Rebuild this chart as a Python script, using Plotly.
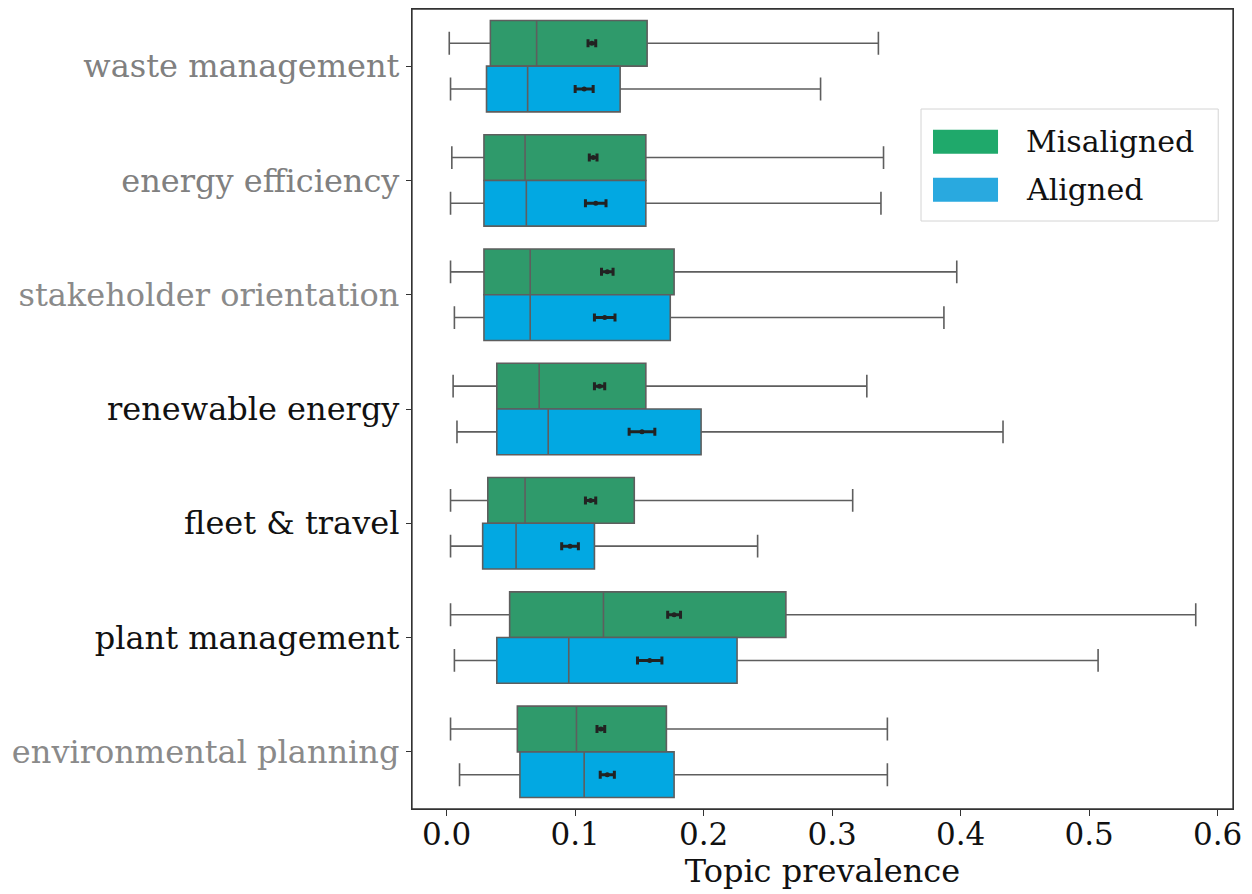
import plotly.graph_objects as go

categories = ["waste management", "energy efficiency", "stakeholder orientation",
              "renewable energy", "fleet & travel", "plant management",
              "environmental planning"]
label_colors = ["#808080", "#808080", "#8a8a8a", "#111111", "#111111", "#111111", "#8a8a8a"]

# Misaligned statistics
mis_low = [0.002, 0.004, 0.003, 0.005, 0.003, 0.003, 0.003]
mis_q1 = [0.034, 0.029, 0.029, 0.039, 0.032, 0.049, 0.055]
mis_med = [0.070, 0.061, 0.065, 0.072, 0.061, 0.122, 0.101]
mis_q3 = [0.156, 0.155, 0.177, 0.155, 0.146, 0.264, 0.171]
mis_high = [0.336, 0.340, 0.397, 0.327, 0.316, 0.583, 0.343]
mis_mean = [0.113, 0.114, 0.125, 0.119, 0.112, 0.177, 0.120]
mis_err = [0.003, 0.003, 0.0045, 0.004, 0.004, 0.005, 0.003]

# Aligned statistics
al_low = [0.003, 0.003, 0.006, 0.008, 0.003, 0.006, 0.010]
al_q1 = [0.031, 0.029, 0.029, 0.039, 0.028, 0.039, 0.057]
al_med = [0.063, 0.062, 0.065, 0.079, 0.054, 0.095, 0.107]
al_q3 = [0.135, 0.155, 0.174, 0.198, 0.115, 0.226, 0.177]
al_high = [0.291, 0.338, 0.387, 0.433, 0.242, 0.507, 0.343]
al_mean = [0.107, 0.116, 0.123, 0.152, 0.096, 0.158, 0.125]
al_err = [0.007, 0.008, 0.008, 0.010, 0.0065, 0.0095, 0.0055]

x_ticks = [0.0, 0.1, 0.2, 0.3, 0.4, 0.5, 0.6]

GREEN_BOX = "#2f9a6b"
BLUE_BOX = "#02a8e2"
GREEN_LEG = "#1fa96b"
BLUE_LEG = "#29a9df"
EDGE = "#5e5e5e"
FONT = "DejaVu Serif"

idx = list(range(len(categories)))
offset = 0.2
pos_mis = [i - offset for i in idx]
pos_al = [i + offset for i in idx]

fig = go.Figure()

def add_box(name, pos, low, q1, med, q3, high, color):
    fig.add_trace(go.Box(
        name=name, orientation="h", y=pos,
        q1=q1, median=med, q3=q3, lowerfence=low, upperfence=high,
        width=0.4, whiskerwidth=0.5, fillcolor=color,
        line=dict(color=EDGE, width=1.6), boxpoints=False,
        showlegend=False, hoverinfo="x"))

add_box("Misaligned", pos_mis, mis_low, mis_q1, mis_med, mis_q3, mis_high, GREEN_BOX)
add_box("Aligned", pos_al, al_low, al_q1, al_med, al_q3, al_high, BLUE_BOX)

def add_mean(mean, err, pos):
    fig.add_trace(go.Scatter(
        x=mean, y=pos, mode="markers",
        marker=dict(color="#222222", size=5),
        error_x=dict(type="data", array=err, color="#222222", thickness=3, width=4),
        showlegend=False))

add_mean(mis_mean, mis_err, pos_mis)
add_mean(al_mean, al_err, pos_al)

ticktext = [f'<span style="color:{c}">{t}</span>' for t, c in zip(categories, label_colors)]

fig.update_layout(
    width=1244, height=886,
    margin=dict(l=404, r=19, t=1, b=85, autoexpand=False),
    paper_bgcolor="white", plot_bgcolor="white",
    font=dict(family=FONT, size=32, color="#111111"),
    xaxis=dict(range=[-0.027, 0.612], tickvals=x_ticks,
               ticktext=[f"{v:.1f}" for v in x_ticks],
               showgrid=False, zeroline=False, showline=True, mirror=True,
               linecolor="#333333", linewidth=1.3, ticks="outside", ticklen=6,
               tickcolor="#333333", tickfont=dict(size=31, color="#111111"),
               ticklabelstandoff=-8, automargin=False,
               title=dict(text="Topic prevalence", font=dict(size=32, color="#111111"), standoff=6)),
    yaxis=dict(range=[6.5, -0.5], tickvals=idx, ticktext=ticktext,
               showgrid=False, zeroline=False, showline=True, mirror=True,
               linecolor="#333333", linewidth=1.3, ticks="outside", ticklen=5,
               tickcolor="#333333", tickfont=dict(size=32), automargin=False),
)

# Plot frame
fig.add_shape(type="rect", xref="paper", yref="paper", x0=0, x1=1, y0=0, y1=1,
              line=dict(color="#333333", width=1.3), fillcolor="rgba(0,0,0,0)", layer="above")

# Legend drawn as paper-coordinate patches
fig.add_shape(type="rect", xref="paper", yref="paper", x0=0.62, x1=0.982, y0=0.735, y1=0.875,
              line=dict(color="#d4d4d4", width=1), fillcolor="rgba(255,255,255,0.9)", layer="above")
fig.add_shape(type="rect", xref="paper", yref="paper", x0=0.6346, x1=0.7138, y0=0.819, y1=0.849,
              line=dict(width=0), fillcolor=GREEN_LEG, layer="above")
fig.add_shape(type="rect", xref="paper", yref="paper", x0=0.6346, x1=0.7138, y0=0.759, y1=0.789,
              line=dict(width=0), fillcolor=BLUE_LEG, layer="above")
for label, yy in [("Misaligned", 0.834), ("Aligned", 0.774)]:
    fig.add_annotation(xref="paper", yref="paper", x=0.7454, y=yy, text=label,
                       showarrow=False, xanchor="left", yanchor="middle",
                       font=dict(family=FONT, size=30, color="#111111"))

fig.write_html("out.html")
